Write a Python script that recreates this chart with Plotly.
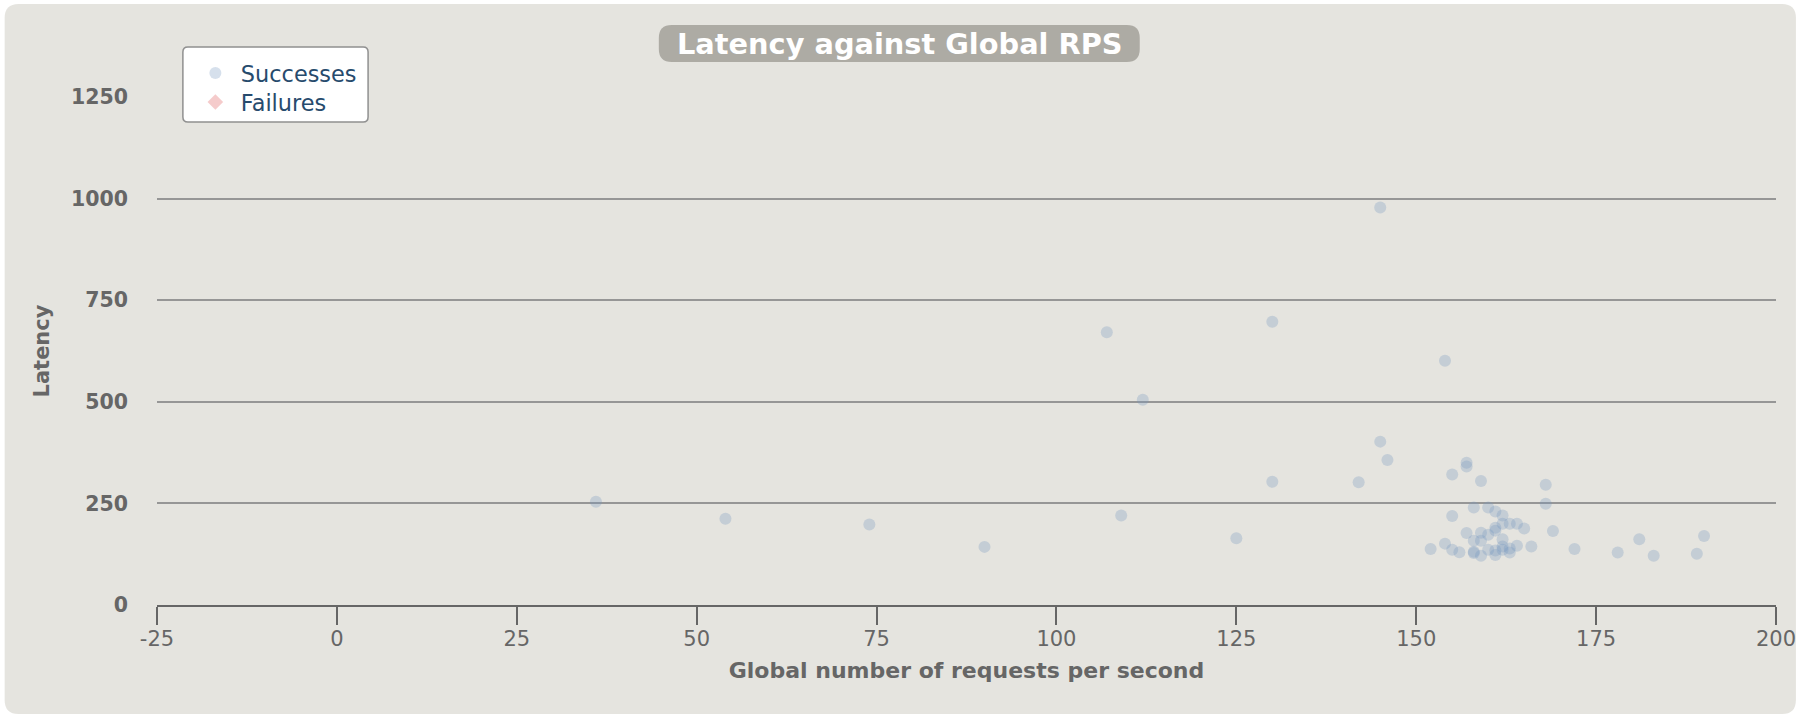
import plotly.graph_objects as go

# ---------------- data ----------------
succ_rps = [36, 54, 74, 90, 107, 109, 112, 125, 130, 130, 142, 145, 145, 146, 154,
            157, 157, 155, 159, 168, 168, 158, 160, 161, 162, 155, 162, 163, 164,
            165, 161, 161, 169, 159, 160, 157, 158, 159, 162, 154, 152, 155, 156,
            158, 158, 159, 160, 161, 161, 162, 162, 163, 163, 164, 166, 172, 178,
            181, 183, 189, 190]
succ_latency = [254, 212, 198, 143, 671, 220, 505, 164, 697, 303, 302, 978, 402, 357, 601,
                350, 341, 321, 305, 296, 249, 240, 240, 230, 220, 219, 200, 200, 200,
                188, 190, 183, 182, 178, 173, 177, 158, 158, 162, 151, 138, 136, 130,
                131, 128, 121, 136, 134, 123, 144, 136, 139, 129, 146, 144, 138, 129,
                162, 121, 126, 170]
fail_rps = []
fail_latency = []

x_ticks = [-25, 0, 25, 50, 75, 100, 125, 150, 175, 200]
y_ticks = [0, 250, 500, 750, 1000, 1250]

# ---------------- layout helpers ----------------
W, H = 1808, 716
L, R, T, B = 157, 25, 97, 111
PW, PH = W - L - R, H - T - B


def px_x(p):
    return (p - L) / PW


def px_y(p):
    return (H - B - p) / PH


def rounded_rect(x0, y0, x1, y1, r):
    pts = [
        ("M", [(x0 + r, y0)]),
        ("L", [(x1 - r, y0)]),
        ("Q", [(x1, y0), (x1, y0 + r)]),
        ("L", [(x1, y1 - r)]),
        ("Q", [(x1, y1), (x1 - r, y1)]),
        ("L", [(x0 + r, y1)]),
        ("Q", [(x0, y1), (x0, y1 - r)]),
        ("L", [(x0, y0 + r)]),
        ("Q", [(x0, y0), (x0 + r, y0)]),
    ]
    out = []
    for cmd, ps in pts:
        out.append(cmd + " " + " ".join(f"{px_x(a):.5f},{px_y(b):.5f}" for a, b in ps))
    return " ".join(out) + " Z"


FONT = "DejaVu Sans"
GREY = "#666666"
LEGEND_FONT = dict(family=FONT, size=22.4, color="#274B6D")

fig = go.Figure()
fig.add_trace(go.Scatter(
    x=succ_rps, y=succ_latency, mode="markers", name="Successes", legend="legend",
    marker=dict(symbol="circle", size=12, color="rgba(119,152,191,0.3)", line=dict(width=0)),
    cliponaxis=False,
))
fig.add_trace(go.Scatter(
    x=fail_rps if fail_rps else [None], y=fail_latency if fail_latency else [None],
    mode="markers", name="Failures", legend="legend2",
    marker=dict(symbol="diamond", size=12, color="rgba(223,83,83,0.3)", line=dict(width=0)),
))

shapes = [
    dict(type="path", xref="paper", yref="paper", layer="below",
         path=rounded_rect(4, 4, 1803, 714, 14),
         fillcolor="#E5E4DF", line=dict(width=0)),
    dict(type="path", xref="paper", yref="paper", layer="above",
         path=rounded_rect(661, 25, 1144, 62, 13),
         fillcolor="#ADABA4", line=dict(width=0)),
    dict(type="path", xref="paper", yref="paper", layer="above",
         path=rounded_rect(183, 47, 369, 122, 5),
         fillcolor="#FFFFFF", line=dict(color="#909090", width=1.5)),
]

legend_common = dict(
    xanchor="left", yanchor="top",
    bgcolor="rgba(0,0,0,0)", borderwidth=0, itemwidth=41,
    font=LEGEND_FONT, itemclick=False, itemdoubleclick=False,
)

fig.update_layout(
    width=W, height=H,
    margin=dict(l=L, r=R, t=T, b=B, pad=0),
    paper_bgcolor="#FFFFFF",
    plot_bgcolor="rgba(0,0,0,0)",
    font=dict(family=FONT, color=GREY),
    shapes=shapes,
    annotations=[dict(
        text="Latency against Global RPS", xref="paper", yref="paper",
        x=px_x(903), y=px_y(44), xanchor="center", yanchor="middle", showarrow=False,
        font=dict(family=FONT, size=28.8, color="#FFFFFF", weight="bold"),
    )],
    legend=dict(x=px_x(190), y=px_y(52), **legend_common),
    legend2=dict(x=px_x(190), y=px_y(81), **legend_common),
    showlegend=True,
    xaxis=dict(
        range=[-25, 200], tickvals=x_ticks, ticktext=[str(v) for v in x_ticks],
        showgrid=False, zeroline=False,
        showline=True, linecolor=GREY, linewidth=2,
        ticks="outside", ticklen=18, tickwidth=1.5, tickcolor=GREY,
        ticklabelstandoff=-4,
        tickfont=dict(family=FONT, size=21, color=GREY),
        title=dict(text="Global number of requests per second", standoff=12,
                   font=dict(family=FONT, size=22, color=GREY, weight="bold")),
    ),
    yaxis=dict(
        range=[0, 1250], tickvals=y_ticks, ticktext=[str(v) for v in y_ticks],
        showgrid=True, gridcolor="#969696", gridwidth=1.5,
        zeroline=False, showline=False, ticks="",
        ticklabelstandoff=28,
        tickfont=dict(family=FONT, size=20.5, color=GREY, weight="bold"),
        title=dict(text="Latency", standoff=15,
                   font=dict(family=FONT, size=21, color=GREY, weight="bold")),
    ),
)

fig.write_html("out.html")
